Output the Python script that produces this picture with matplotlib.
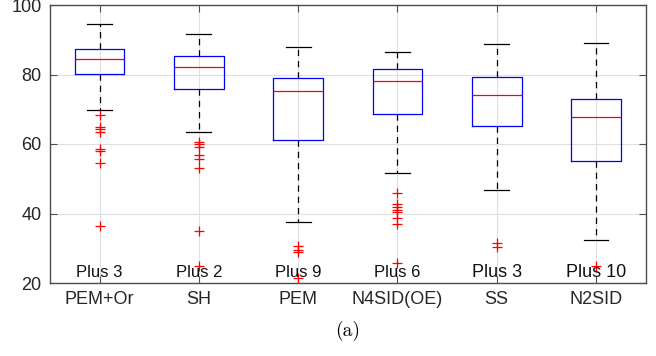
import matplotlib
matplotlib.use("Agg")
import matplotlib.pyplot as plt

methods = ["PEM+Or", "SH", "PEM", "N4SID(OE)", "SS", "N2SID"]
q1 = [80.1, 75.9, 61.1, 68.5, 65.3, 55.1]
med = [84.5, 82.1, 75.2, 78.2, 74.1, 67.9]
q3 = [87.3, 85.4, 79.0, 81.7, 79.2, 72.9]
whislo = [69.8, 63.4, 37.6, 51.7, 46.8, 32.3]
whishi = [94.5, 91.7, 87.9, 86.6, 88.9, 89.0]
fliers = [
    [68.3, 64.8, 64.2, 63.5, 58.6, 58.1, 54.6, 36.5],
    [60.7, 60.0, 59.2, 56.8, 55.6, 53.0, 35.1, 25.0],
    [30.6, 29.5, 28.8, 21.3],
    [46.0, 42.6, 42.0, 41.0, 40.5, 38.6, 36.9, 25.7],
    [31.4, 30.4],
    [25.0],
]
# outliers below the visible range
n_below = [3, 2, 9, 6, 3, 10]

stats = []
for i, name in enumerate(methods):
    stats.append(dict(label=name, q1=q1[i], med=med[i], q3=q3[i],
                      whislo=whislo[i], whishi=whishi[i], fliers=fliers[i]))

fig = plt.figure(figsize=(6.56, 3.56), dpi=100)
ax = fig.add_axes([50 / 656, 1 - 283 / 356, 595.6 / 656, 278 / 356])

ax.bxp(stats, widths=0.5, patch_artist=False,
       boxprops=dict(color="blue", linewidth=0.9),
       medianprops=dict(color="red", linewidth=0.9),
       whiskerprops=dict(color="black", linestyle=(0, (5, 4)), linewidth=0.9),
       capprops=dict(color="black", linewidth=0.9),
       capwidths=0.25,
       flierprops=dict(marker="+", markeredgecolor="red", markersize=7,
                       linestyle="none", markeredgewidth=0.9))

ax.set_xlim(0.5, 6.5)
ax.set_ylim(20, 100)
ax.set_yticks([20, 40, 60, 80, 100])
ax.set_xticks(range(1, 7))
ax.set_xticklabels(methods)

label_sizes = [12, 12, 12, 12, 13, 13]
for i, n in enumerate(n_below):
    ax.text(i + 1, 21.8, "Plus %d" % n, ha="center", va="baseline",
            fontsize=label_sizes[i], family="Liberation Sans", color="#111111")

ax.grid(True, color="#e0e0e0", linewidth=0.8)
ax.set_axisbelow(True)
for s in ax.spines.values():
    s.set_color("#4d4d4d")
    s.set_linewidth(1.0)
ax.tick_params(direction="in", length=5, color="#4d4d4d", top=True, right=True,
               labelsize=13, labelcolor="#262626", pad=6)
for lab in ax.get_xticklabels() + ax.get_yticklabels():
    lab.set_family("Liberation Sans")

fig.text(0.5 * (50 + 645.6) / 656, 1 - 331 / 356, "(a)", ha="center",
         va="center", fontsize=14, family="cmr10")

fig.savefig("out.png", dpi=100)
